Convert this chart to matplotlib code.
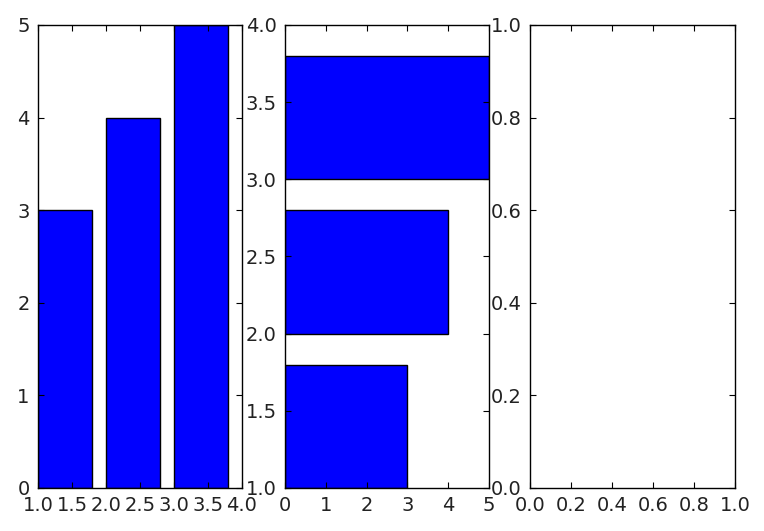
import matplotlib
matplotlib.use("Agg")
import matplotlib.pyplot as plt

bar_x = [1, 2, 3]
bar_heights = [3, 4, 5]
barh_y = [1, 2, 3]
barh_widths = [3, 4, 5]

plt.rcParams['font.family'] = ['DejaVu Sans']
plt.rcParams['font.size'] = 14
plt.rcParams['xtick.direction'] = 'in'
plt.rcParams['ytick.direction'] = 'in'
plt.rcParams['xtick.top'] = True
plt.rcParams['ytick.right'] = True
plt.rcParams['xtick.major.size'] = 4
plt.rcParams['ytick.major.size'] = 4
plt.rcParams['xtick.major.pad'] = 6
plt.rcParams['ytick.major.pad'] = 6
plt.rcParams['axes.linewidth'] = 1.0
plt.rcParams['text.color'] = '#222222'
plt.rcParams['xtick.labelcolor'] = '#222222'
plt.rcParams['ytick.labelcolor'] = '#222222'

fig = plt.figure(figsize=(7.64, 5.31), dpi=100)
bottom = 0.081
height = 0.872
ax1 = fig.add_axes([0.0497, bottom, 0.267, height])
ax2 = fig.add_axes([0.373, bottom, 0.267, height])
ax3 = fig.add_axes([0.694, bottom, 0.268, height])

ax1.bar(bar_x, bar_heights, width=0.8, align='edge', color='blue', edgecolor='black', linewidth=1)
ax1.set_xlim(1, 4)
ax1.set_ylim(0, 5)
ax1.set_xticks([1.0, 1.5, 2.0, 2.5, 3.0, 3.5, 4.0])
ax1.set_xticklabels(['1.0', '1.5', '2.0', '2.5', '3.0', '3.5', '4.0'])

ax2.barh(barh_y, barh_widths, height=0.8, align='edge', color='blue', edgecolor='black', linewidth=1)
ax2.set_xlim(0, 5)
ax2.set_ylim(1, 4)
ax2.set_xticks([0, 1, 2, 3, 4, 5])
ax2.set_yticks([1.0, 1.5, 2.0, 2.5, 3.0, 3.5, 4.0])
ax2.set_yticklabels(['1.0', '1.5', '2.0', '2.5', '3.0', '3.5', '4.0'])

ax3.set_xlim(0, 1)
ax3.set_ylim(0, 1)
ax3.set_xticks([0, 0.2, 0.4, 0.6, 0.8, 1.0])
ax3.set_xticklabels(['0.0', '0.2', '0.4', '0.6', '0.8', '1.0'])
ax3.set_yticks([0, 0.2, 0.4, 0.6, 0.8, 1.0])
ax3.set_yticklabels(['0.0', '0.2', '0.4', '0.6', '0.8', '1.0'])

fig.savefig('out.png', dpi=100)
